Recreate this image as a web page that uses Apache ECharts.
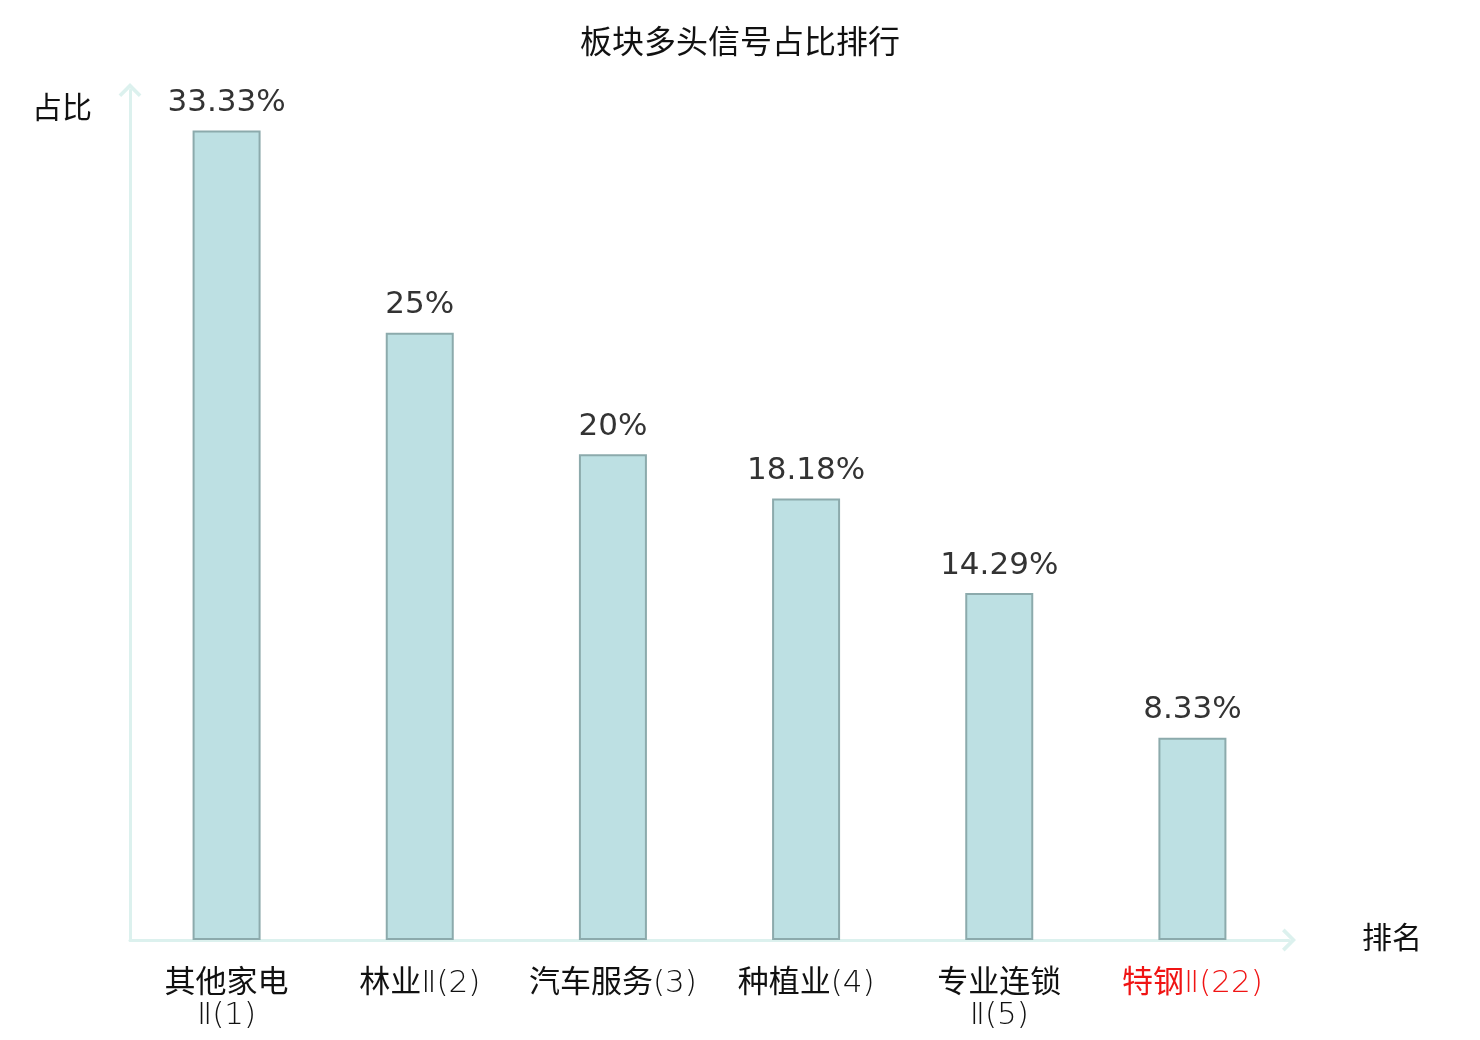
<!DOCTYPE html>
<html>
<head>
<meta charset="utf-8">
<title>板块多头信号占比排行</title>
<script src="https://cdn.jsdelivr.net/npm/echarts@6/dist/echarts.min.js"></script>
<style>
  html, body { margin: 0; padding: 0; background: #fff; }
  #main { width: 1480px; height: 1040px; }
</style>
</head>
<body>
<div id="main"></div>
<script>
// sector names and their share of long signals (%)
const sectors = ['其他家电Ⅱ(1)', '林业Ⅱ(2)', '汽车服务(3)', '种植业(4)', '专业连锁Ⅱ(5)', '特钢Ⅱ(22)'];
const shares = [33.33, 25, 20, 18.18, 14.29, 8.33];
const highlightIndex = 5;

const chevron = 'path://M0,11 L11,0 L22,11 L19.5,13.5 L11,5 L2.5,13.5 Z';
const axisColor = '#dcf1ee';

// chinese part in regular weight, the rank part thin; long names wrap
function sectorLabel(v) {
  const m = v.match(/^([\u4e00-\u9fff]+)(.*)$/);
  const head = m ? m[1] : v;
  const tail = m ? m[2] : '';
  const sep = v.length > 7 ? '\n' : '';
  return '{c|' + head + '}' + sep + '{l|' + tail + '}';
}

const chart = echarts.init(document.getElementById('main'));
chart.setOption({
  animation: false,
  textStyle: { fontFamily: '"DejaVu Sans", "Noto Sans CJK SC", sans-serif' },
  title: {
    text: '板块多头信号占比排行',
    left: 'center',
    top: 24,
    textStyle: { fontSize: 32, fontWeight: 'normal', color: '#111' }
  },
  grid: { left: 130, right: 191, top: 90, bottom: 100 },
  xAxis: {
    type: 'category',
    data: sectors,
    name: '排名',
    nameLocation: 'end',
    nameGap: 73,
    nameTextStyle: { fontSize: 30, color: '#111' },
    axisLine: {
      lineStyle: { color: axisColor, width: 3 },
      symbol: ['none', chevron],
      symbolSize: [24, 14]
    },
    axisTick: { show: false },
    axisLabel: {
      interval: 0,
      fontSize: 31,
      margin: 28,
      lineHeight: 32,
      formatter: sectorLabel,
      color: (v, i) => (i === highlightIndex ? '#f01414' : '#111'),
      rich: {
        c: { fontSize: 31, lineHeight: 32, fontWeight: 'normal' },
        l: { fontSize: 31, lineHeight: 32, fontWeight: 200 }
      }
    }
  },
  yAxis: {
    type: 'value',
    min: 0,
    max: 35,
    name: '占比',
    nameLocation: 'end',
    nameGap: -20,
    nameTextStyle: {
      fontSize: 30,
      color: '#111',
      align: 'right',
      verticalAlign: 'middle',
      padding: [0, 38, 0, 0]
    },
    axisLine: {
      show: true,
      lineStyle: { color: axisColor, width: 3 },
      symbol: ['none', chevron],
      symbolSize: [24, 14]
    },
    axisTick: { show: false },
    axisLabel: { show: false },
    splitLine: { show: false }
  },
  series: [{
    type: 'bar',
    data: shares,
    barWidth: 68,
    itemStyle: { color: '#bde0e3', borderColor: '#8caaac', borderWidth: 2 },
    label: {
      show: true,
      position: 'top',
      distance: 12,
      fontSize: 31,
      color: '#333',
      formatter: p => p.value + '%'
    }
  }]
});
</script>
</body>
</html>
